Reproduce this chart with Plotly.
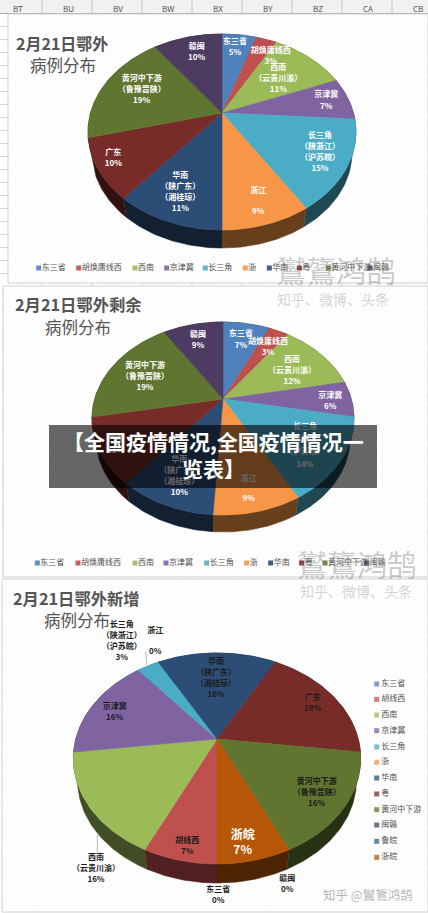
import math
import plotly.graph_objects as go

# ---------- data ----------
CATEGORIES_A = ["东三省", "胡焕庸线西", "西南", "京津冀", "长三角", "浙江", "华南", "广东", "黄河中下游", "赣闽"]
VALUES_OUTSIDE = [5, 3, 11, 7, 15, 9, 11, 10, 19, 10]
VALUES_REMAINING = [7, 3, 12, 6, 14, 9, 10, 11, 19, 9]
CATEGORIES_NEW = ["东三省", "胡线西", "西南", "京津冀", "长三角", "浙江", "华南", "广东", "黄河中下游", "赣闽", "鲁皖", "浙皖"]
VALUES_NEW = [0, 7, 16, 16, 3, 0, 16, 19, 16, 0, 0, 7]
LEGEND_A = ["东三省", "胡焕庸线西", "西南", "京津冀", "长三角", "浙", "华南", "粤", "黄河中下游", "闽赣"]
LEGEND_NEW = ["东三省", "胡线西", "西南", "京津冀", "长三角", "浙", "华南", "粤", "黄河中下游", "闽赣", "鲁皖", "浙皖"]
COLUMN_LETTERS = ["BT", "BU", "BV", "BW", "BX", "BY", "BZ", "CA", "CB"]
TITLES = [["2月21日鄂外", "病例分布"], ["2月21日鄂外剩余", "病例分布"], ["2月21日鄂外新增", "病例分布"]]
HEADLINE = "【全国疫情情况,全国疫情情况一<br>览表】"
WATERMARK = "鸑鷟鸿鹄"

COLORS = ["#4f81bd", "#c0504d", "#9bbb59", "#8064a2", "#4bacc6", "#f79646",
          "#2c4d75", "#772c2a", "#5f7530", "#4d3b62", "#276a7c", "#b65708"]
FONT = "Noto Sans CJK SC"
INK = "#555555"


def dark(c, f):
    r, g, b = int(c[1:3], 16), int(c[3:5], 16), int(c[5:7], 16)
    return f"rgb({int(r*f)},{int(g*f)},{int(b*f)})"


def soft(c, a):
    r, g, b = int(c[1:3], 16), int(c[3:5], 16), int(c[5:7], 16)
    return f"rgba({r},{g},{b},{a})"


class Disc:
    """Perspective view of a flat disc: apex is the pie centre on screen."""
    def __init__(self, cx, ay, rx, top, bottom, depth, rot=0.0):
        self.cx, self.ay, self.rot = cx, ay, rot
        self.k = (bottom - top) / (bottom + top)
        self.B = top * (1 + self.k)
        self.A = rx * math.sqrt(1 - self.k ** 2)
        self.scale = 0.97
        self.drop = depth + (1 - self.scale) * bottom

    def arc(self, f0, f1, lower=False):
        n = max(2, int(abs(f1 - f0) * 360))
        xs, ys = [], []
        for i in range(n + 1):
            t = 2 * math.pi * (f0 + (f1 - f0) * i / n) + self.rot
            u, v = math.sin(t), math.cos(t)
            w = 1 + self.k * v
            X, Y = self.A * u / w, self.B * v / w
            if lower:
                xs.append(self.cx + self.scale * X)
                ys.append(self.ay - self.scale * Y + self.drop)
            else:
                xs.append(self.cx + X)
                ys.append(self.ay - Y)
        return xs, ys


fig = go.Figure()


def poly(xs, ys, fill, name=None, line=None):
    fig.add_trace(go.Scatter(
        x=xs, y=ys, mode="lines", fill="toself", fillcolor=fill,
        line=dict(color=line or fill, width=0.6), name=name or "",
        hoverinfo="name" if name else "skip", showlegend=False))


def text_points(items, color, size, weight="normal"):
    fig.add_trace(go.Scatter(
        x=[i[1] for i in items], y=[i[2] for i in items], text=[i[0] for i in items],
        mode="text", textposition="middle center",
        textfont=dict(family=FONT, size=size, color=color, weight=weight),
        hoverinfo="skip", showlegend=False))


def draw_pie(disc, cats, vals, colors):
    total = sum(vals)
    spans, acc = [], 0.0
    for v in vals:
        spans.append((acc / total, (acc + v) / total))
        acc += v
    for (f0, f1), v, c in zip(spans, vals, colors):
        if v:
            xa, ya = disc.arc(f0, f1)
            xb, yb = disc.arc(f0, f1, lower=True)
            poly(xa + xb[::-1], ya + yb[::-1], dark(c, 0.42))
    for (f0, f1), v, c, n in zip(spans, vals, colors, cats):
        if v:
            xa, ya = disc.arc(f0, f1)
            poly([disc.cx] + xa + [disc.cx], [disc.ay] + ya + [disc.ay], c, name=f"{n} {v}%")


def labels(layout, vals, offset):
    """layout: (category index, name lines, x, first y, line step, percent y), zoomed px."""
    out = []
    for idx, lines, zx, zy, step, py in layout:
        for j, t in enumerate(lines):
            out.append((t, zx / 3, offset + (zy + j * step) / 3))
        out.append((f"{vals[idx]}%", zx / 3, offset + py / 3))
    return out


# ---------- page ----------
shapes = []
def hline(x0, x1, y, color="#d4d4d4", w=1):
    shapes.append(dict(type="line", x0=x0, x1=x1, y0=y, y1=y, line=dict(color=color, width=w), layer="below"))
def vline(x, y0, y1, color="#d4d4d4", w=1):
    shapes.append(dict(type="line", x0=x, x1=x, y0=y0, y1=y1, line=dict(color=color, width=w), layer="below"))

shapes.append(dict(type="rect", x0=0, x1=428, y0=0, y1=13, fillcolor="#f1f1f1", line=dict(width=0), layer="below"))
hline(0, 428, 13.5, "#a9a9a9")
for i in range(9):
    vline(42 + 50 * i, 0, 13, "#c6c6c6")
for r in range(1, 21):
    hline(0, 8, 13.5 + 13 * r)
for i in range(8):
    vline(42 + 50 * i, 283, 286)

panels = [(8, 14, 428, 283), (3, 286, 428, 577), (2, 579, 428, 912)]
for x0, y0, x1, y1 in panels:
    fig.add_trace(go.Scatter(
        x=[x0, x1, x1, x0, x0], y=[y0, y0, y1, y1, y0], mode="lines", fill="toself",
        fillcolor="#ffffff",
        fillpattern=dict(shape="/", size=4, solidity=0.2, fgcolor="#e9e9e9", bgcolor="#ffffff"),
        line=dict(color="#cfcfcf", width=1), hoverinfo="skip", showlegend=False))

# ---------- pies ----------
disc1 = Disc(222, 113, 134, 79, 117, 18)
disc2 = Disc(223, 399, 131, 77, 116, 17)
disc3 = Disc(217, 739, 143.7, 86, 125, 19, rot=math.pi)
draw_pie(disc1, CATEGORIES_A, VALUES_OUTSIDE, COLORS)
draw_pie(disc2, CATEGORIES_A, VALUES_REMAINING, COLORS)
draw_pie(disc3, CATEGORIES_NEW, VALUES_NEW, COLORS)

LAYOUT1 = [
    (0, ["东三省"], 705, 125, 33, 160),
    (1, ["胡焕庸线西"], 812, 153, 33, 187),
    (2, ["西南", "（云贵川渝）"], 835, 205, 33, 271),
    (3, ["京津冀"], 979, 285, 33, 320),
    (4, ["长三角", "（陕浙江）", "（沪苏皖）"], 960, 408, 33.5, 508),
    (5, ["浙江"], 775, 573, 33, 637),
    (6, ["华南", "（陕广东）", "（湘桂琼）"], 541, 528, 33.5, 628),
    (7, ["广东"], 340, 459, 33, 493),
    (8, ["黄河中下游", "（鲁豫晋陕）"], 425, 237, 33, 304),
    (9, ["赣闽"], 590, 141, 33, 175),
]
LAYOUT2 = [
    (0, ["东三省"], 723, 148, 33, 182),
    (1, ["胡焕庸线西"], 804, 172, 33, 205),
    (2, ["西南", "（云贵川渝）"], 876, 226, 33, 292),
    (3, ["京津冀"], 991, 333, 33, 367),
    (4, ["长三角", "（陕浙江）", "（沪苏皖）"], 915, 425, 38, 539),
    (5, ["浙江"], 746, 581, 33, 643),
    (6, ["华南", "（陕广东）", "（湘桂琼）"], 538, 525, 33.5, 625),
    (7, ["广东"], 347, 465, 33, 499),
    (8, ["黄河中下游", "（鲁豫晋陕）"], 435, 243, 33, 310),
    (9, ["赣闽"], 594, 150, 33, 184),
]
LAYOUT3 = [
    (1, ["胡线西"], 562, 790, 33, 823),
    (2, ["西南", "（云贵川渝）"], 288, 840, 33, 907),
    (3, ["京津冀"], 344, 387, 33, 421),
    (4, ["长三角", "（陕浙江）", "（沪苏皖）"], 365, 141, 33, 241),
    (5, ["浙江"], 466, 160, 33, 223),
    (6, ["华南", "（陕广东）", "（湘桂琼）"], 648, 252, 33, 352),
    (7, ["广东"], 938, 361, 33, 394),
    (8, ["黄河中下游", "（鲁豫晋陕）"], 950, 612, 33, 679),
    (9, ["赣闽"], 862, 903, 33, 937),
    (0, ["东三省"], 655, 936, 33, 970),
]
LAYOUT3_BIG = [(11, ["浙皖"], 728, 774, 33, 818)]

text_points(labels(LAYOUT1, VALUES_OUTSIDE, 0), "#ffffff", 8, "bold")
text_points(labels(LAYOUT2, VALUES_REMAINING, 285), "#ffffff", 8, "bold")
text_points(labels(LAYOUT3, VALUES_NEW, 578), "#1c1c1c", 8, "bold")
text_points(labels(LAYOUT3_BIG, VALUES_NEW, 578), "#ffffff", 12, "bold")

# leader lines of the third pie
for zx, zy in [((292, 292), (770, 830)), ((437, 441), (220, 262))]:
    fig.add_trace(go.Scatter(x=[v / 3 for v in zx], y=[578 + v / 3 for v in zy], mode="lines",
                             line=dict(color="#a6a6a6", width=0.8), hoverinfo="skip", showlegend=False))


# ---------- legends ----------
def legend(names, mx, my, color_idx, text_dx=4.5, size=8, col="#4f4f4f", op=0.9):
    fig.add_trace(go.Scatter(
        x=mx, y=my, mode="markers",
        marker=dict(symbol="square", size=5, color=[soft(COLORS[i], op) for i in color_idx]),
        hoverinfo="skip", showlegend=False))
    fig.add_trace(go.Scatter(
        x=[m + text_dx - 1.5 for m in mx], y=my, text=names, mode="text", textposition="middle right",
        textfont=dict(family=FONT, size=size, color=col), hoverinfo="skip", showlegend=False))


legend(LEGEND_A, [v / 3 for v in (116, 236, 405, 500, 616, 736, 808, 898, 985, 1110)], [268] * 10, range(10))
legend(LEGEND_A, [v / 3 for v in (112, 234, 405, 498, 620, 740, 812, 905, 975, 1100)], [563] * 10, range(10))
legend(LEGEND_NEW, [376.7] * 12,
       [578 + v / 3 for v in (318, 364, 411, 458, 507, 553, 600, 648, 695, 741, 790, 838)],
       range(12), text_dx=6, op=0.75)

# ---------- texts ----------
ann = []
def note(text, x, y, size, color, bold=False):
    ann.append(dict(text=text, x=x, y=y, xref="x", yref="y", showarrow=False, xanchor="center", yanchor="middle",
                    font=dict(family=FONT, size=size, color=color, weight="bold" if bold else "normal")))


for i, c in enumerate(COLUMN_LETTERS):
    note(c, 18 + 50 * i, 8, 8, "#555555")

note(TITLES[0][0], 62, 43, 16, INK, True)
note(TITLES[0][1], 63, 65, 16.5, INK)
note(TITLES[1][0], 78, 304, 16.3, INK, True)
note(TITLES[1][1], 78, 327, 16.5, INK)
note(TITLES[2][0], 76, 598, 16.3, INK, True)
note(TITLES[2][1], 77, 620, 16.5, INK)

note("知乎、微博、头条", 333, 299, 14, "rgba(170,170,170,0.5)")
note("知乎、微博、头条", 356, 591, 14, "rgba(170,170,170,0.5)")
note(WATERMARK, 336, 269, 30, "rgba(130,130,130,0.42)")
note(WATERMARK, 357, 563, 30, "rgba(130,130,130,0.42)")
note("知乎 @" + WATERMARK, 368, 894, 12.5, "rgba(130,130,130,0.6)")

# banner over the middle chart
shapes.append(dict(type="rect", x0=49, x1=377, y0=425, y1=488, fillcolor="rgba(0,0,0,0.6)",
                   line=dict(width=0), layer="above"))
note(HEADLINE, 213, 454, 21, "#ffffff", True)

fig.update_layout(
    width=428, height=913, margin=dict(l=0, r=0, t=0, b=0), autosize=False,
    paper_bgcolor="#ffffff", plot_bgcolor="#ffffff", showlegend=False,
    xaxis=dict(range=[0, 428], visible=False, fixedrange=True),
    yaxis=dict(range=[913, 0], visible=False, fixedrange=True),
    shapes=shapes, annotations=ann, font=dict(family=FONT),
)
fig.write_html("out.html", config=dict(displayModeBar=False),
               post_script="document.body.style.margin='0';document.documentElement.style.overflow='hidden';")
